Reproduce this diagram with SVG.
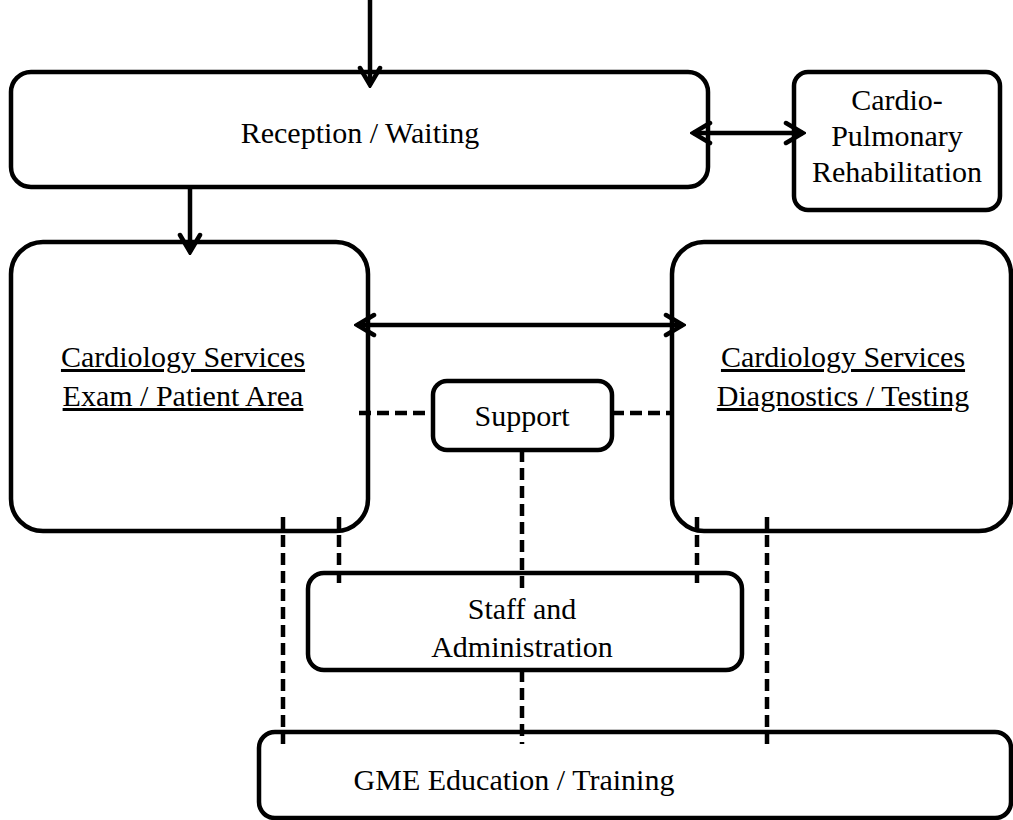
<svg xmlns="http://www.w3.org/2000/svg" width="1013" height="820" viewBox="0 0 1013 820">
<defs>
<style>
.box{fill:#fff;stroke:#000;stroke-width:4.5}
.t{font-family:"Liberation Serif","Times New Roman",serif;font-size:30px;fill:#000;text-anchor:middle}
.u{text-decoration:underline}
.ln{stroke:#000;stroke-width:4.5;fill:none}
.d{stroke:#000;stroke-width:4.5;fill:none;stroke-dasharray:12 6}
</style>
<marker id="ah" viewBox="0 0 24 26" refX="21" refY="13" markerWidth="24" markerHeight="26" markerUnits="userSpaceOnUse" orient="auto-start-reverse">
<path d="M4,3 L21,13 L4,23" fill="none" stroke="#000" stroke-width="4.5" stroke-linecap="round" stroke-linejoin="miter"/>
</marker>
</defs>
<g id="reception"><rect class="box" x="11" y="72" width="697" height="115" rx="20"/><text class="t" x="360" y="143">Reception / Waiting</text></g>
<g id="rehab"><rect class="box" x="794" y="72" width="206" height="138" rx="14"/><text class="t" x="897" y="110">Cardio-</text><text class="t" x="897" y="146">Pulmonary</text><text class="t" x="897" y="182">Rehabilitation</text></g>
<g id="exam"><rect class="box" x="11" y="242" width="357" height="289" rx="32"/><text class="t u" x="183" y="367">Cardiology Services</text><text class="t u" x="183" y="406">Exam / Patient Area</text></g>
<g id="diag"><rect class="box" x="672" y="242" width="339" height="289" rx="32"/><text class="t u" x="843" y="367">Cardiology Services</text><text class="t u" x="843" y="406">Diagnostics / Testing</text></g>
<g id="connectors">
<line class="ln" x1="370" y1="0" x2="370" y2="85" marker-end="url(#ah)"/>
<line class="ln" x1="190" y1="187" x2="190" y2="252" marker-end="url(#ah)"/>
<line class="ln" x1="693" y1="133" x2="803" y2="133" marker-start="url(#ah)" marker-end="url(#ah)"/>
<line class="ln" x1="357" y1="325" x2="683" y2="325" marker-start="url(#ah)" marker-end="url(#ah)"/>
<line class="d" x1="359" y1="413" x2="433" y2="413"/>
<line class="d" x1="612" y1="413" x2="672" y2="413"/>
<line class="d" x1="522" y1="450" x2="522" y2="588"/>
<line class="d" x1="522" y1="670" x2="522" y2="744"/>
<line class="d" x1="283" y1="517" x2="283" y2="744"/>
<line class="d" x1="339" y1="517" x2="339" y2="588"/>
<line class="d" x1="697" y1="517" x2="697" y2="588"/>
<line class="d" x1="767" y1="517" x2="767" y2="744"/>
</g>
<g id="support"><rect class="box" x="433" y="381" width="179" height="69" rx="14" fill-opacity="0"/><text class="t" x="522" y="426">Support</text></g>
<g id="staff"><rect class="box" x="308" y="573" width="434" height="97" rx="16" fill-opacity="0"/><text class="t" x="522" y="619">Staff and</text><text class="t" x="522" y="657">Administration</text></g>
<g id="gme"><rect class="box" x="259" y="732" width="752" height="86" rx="16" fill-opacity="0"/><text class="t" x="514" y="790">GME Education / Training</text></g>
</svg>
